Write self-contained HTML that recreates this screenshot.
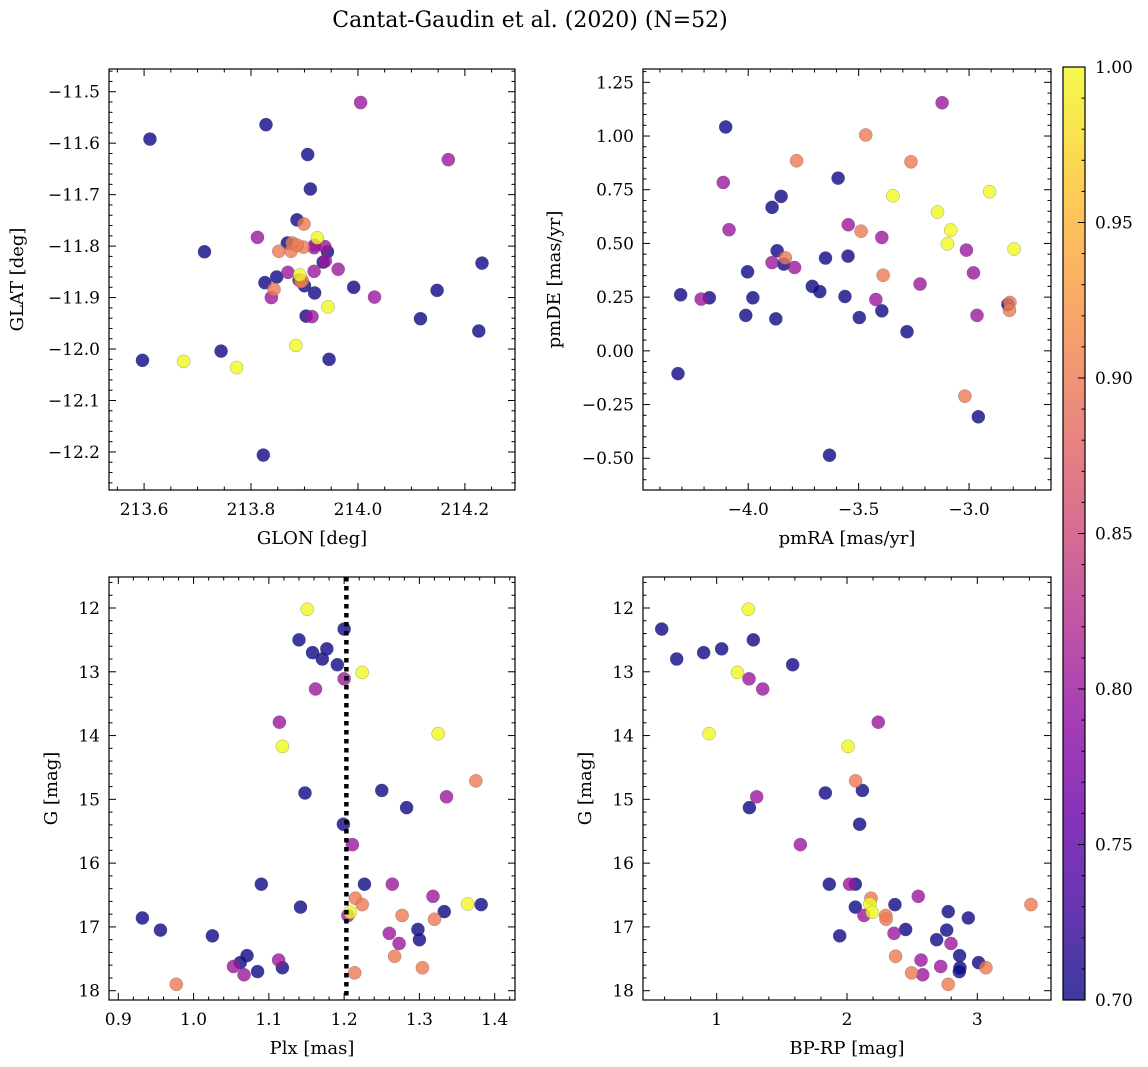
<!DOCTYPE html>
<html><head><meta charset="utf-8"><style>
html,body{margin:0;padding:0;background:#fff;}
svg{display:block;font-family:"DejaVu Serif","Liberation Serif",serif;}
</style></head><body>
<svg id="fig" width="1148" height="1067" viewBox="0 0 1148 1067" xmlns="http://www.w3.org/2000/svg">
<defs>
<linearGradient id="plasma" x1="0" y1="1" x2="0" y2="0">
<stop offset="0" stop-color="#0d0887"/><stop offset="0.1" stop-color="#41049d"/><stop offset="0.2" stop-color="#6a00a8"/><stop offset="0.3" stop-color="#8f0da4"/><stop offset="0.4" stop-color="#b12a90"/><stop offset="0.5" stop-color="#cc4778"/><stop offset="0.6" stop-color="#e16462"/><stop offset="0.7" stop-color="#f2844b"/><stop offset="0.8" stop-color="#fca636"/><stop offset="0.9" stop-color="#fcce25"/><stop offset="1" stop-color="#f0f921"/>
</linearGradient>
</defs>
<text x="530" y="27" font-size="22" text-anchor="middle">Cantat-Gaudin et al. (2020) (N=52)</text>
</svg>
<script>
const prob = [1,1,1,1,1,1, 0.9,0.9,0.9,0.9,0.9,0.9,0.9,0.9,0.9,
 0.8,0.8,0.8,0.8,0.8,0.8,0.8,0.8,0.8,0.8,0.8,0.8,0.8,
 0.7,0.7,0.7,0.7,0.7,0.7,0.7,0.7,0.7,0.7,0.7,0.7,0.7,0.7,0.7,0.7,0.7,0.7,0.7,0.7,0.7,0.7,0.7,0.7];
const plx = [1.151,1.224,1.118,1.325,1.364,1.208,
 1.375,1.215,1.224,1.277,1.320,1.267,1.304,1.214,0.977,
 1.200,1.162,1.114,1.336,1.211,1.264,1.318,1.205,1.260,1.273,1.053,1.113,1.067,
 1.200,1.140,1.158,1.177,1.171,1.191,1.148,1.250,1.283,1.199,1.090,1.227,1.382,1.142,1.333,0.932,0.956,1.025,1.298,1.300,1.071,1.062,1.118,1.085];
const gmag = [12.02,13.01,14.17,13.97,16.64,16.77,
 14.71,16.55,16.65,16.82,16.88,17.46,17.64,17.72,17.90,
 13.11,13.27,13.79,14.96,15.71,16.33,16.52,16.82,17.10,17.26,17.62,17.52,17.75,
 12.33,12.50,12.70,12.64,12.80,12.89,14.90,14.86,15.13,15.39,16.33,16.33,16.65,16.69,16.76,16.86,17.05,17.14,17.04,17.20,17.45,17.56,17.64,17.70];
const bprp = [1.243,1.159,2.008,0.941,2.176,2.194,
 2.066,2.184,3.412,2.297,2.30,2.373,3.066,2.496,2.777,
 1.248,1.353,2.240,1.307,1.642,2.020,2.547,2.130,2.361,2.798,2.719,2.568,2.581,
 0.578,1.281,0.900,1.038,0.693,1.583,1.834,2.118,1.251,2.097,1.864,2.064,2.368,2.064,2.777,2.931,2.765,1.944,2.450,2.688,2.864,3.010,2.867,2.862];
const glon = [213.924,213.891,213.944,213.884,213.674,213.773,
 213.899,213.877,213.852,213.875,213.898,213.896,213.843,213.886,213.893,
 214.005,214.169,213.812,213.918,213.938,213.939,213.963,213.918,213.869,213.838,214.031,213.914,213.919,
 213.611,213.828,213.906,213.911,213.886,213.713,213.868,213.943,213.935,214.232,213.848,213.826,213.900,213.919,213.992,214.148,214.117,213.903,214.226,213.744,213.597,213.946,213.823,213.890];
const glat = [-11.784,-11.856,-11.918,-11.993,-12.024,-12.036,
 -11.757,-11.794,-11.810,-11.810,-11.802,-11.867,-11.884,-11.798,-11.869,
 -11.521,-11.632,-11.783,-11.803,-11.801,-11.829,-11.845,-11.849,-11.851,-11.900,-11.899,-11.937,-11.798,
 -11.592,-11.564,-11.622,-11.689,-11.749,-11.811,-11.794,-11.811,-11.831,-11.833,-11.860,-11.871,-11.877,-11.891,-11.880,-11.886,-11.941,-11.936,-11.965,-12.004,-12.022,-12.020,-12.206,-11.866];
const pmra = [-2.907,-3.345,-3.143,-3.083,-3.098,-2.796,
 -3.468,-3.781,-3.263,-3.489,-3.832,-3.389,-2.815,-2.817,-3.019,
 -3.122,-4.113,-3.547,-4.087,-3.395,-3.012,-3.892,-3.790,-2.980,-3.222,-4.213,-3.422,-2.964,
 -4.102,-3.593,-3.851,-3.892,-3.869,-3.650,-3.548,-3.839,-4.003,-3.710,-3.676,-4.306,-4.176,-3.979,-3.562,-2.824,-3.395,-4.011,-3.875,-3.497,-3.281,-4.318,-2.958,-3.632];
const pmde = [0.741,0.722,0.646,0.562,0.498,0.474,
 1.005,0.885,0.880,0.557,0.433,0.352,0.225,0.189,-0.211,
 1.155,0.784,0.587,0.564,0.528,0.469,0.411,0.388,0.363,0.311,0.241,0.239,0.165,
 1.042,0.804,0.719,0.668,0.466,0.432,0.441,0.404,0.368,0.300,0.276,0.261,0.247,0.247,0.253,0.216,0.186,0.165,0.149,0.155,0.089,-0.106,-0.307,-0.486];
const plxCut = 1.203;
const cbTicks = [0.70,0.75,0.80,0.85,0.90,0.95,1.00];

const NS='http://www.w3.org/2000/svg';
const svg=document.getElementById('fig');
function mk(tag,attrs,parent){const e=document.createElementNS(NS,tag);for(const k in attrs)e.setAttribute(k,attrs[k]);(parent||svg).appendChild(e);return e;}
const stops=[[0,[13,8,135]],[0.1,[65,4,157]],[0.2,[106,0,168]],[0.3,[143,13,164]],[0.4,[177,42,144]],[0.5,[204,71,120]],[0.6,[225,100,98]],[0.7,[242,132,75]],[0.8,[252,166,54]],[0.9,[252,206,37]],[1,[240,249,33]]];
function plasma(t){t=Math.max(0,Math.min(1,t));for(let i=1;i<stops.length;i++){if(t<=stops[i][0]){const a=stops[i-1],b=stops[i];const f=(t-a[0])/(b[0]-a[0]);const c=a[1].map((v,j)=>Math.round(v+(b[1][j]-v)*f));return 'rgb('+c.join(',')+')';}}return 'rgb(240,249,33)';}
function fmt(v,d){const s=Math.abs(v).toFixed(d);return (v<0?'\u2212':'')+s;}
const TF=17, LF=18;

function panel(o){
  const g=mk('g',{});
  
  
  const X=v=>o.x0+(v-o.xlo)/(o.xhi-o.xlo)*(o.x1-o.x0);
  const Y=v=>o.y0+(v-o.ylo)/(o.yhi-o.ylo)*(o.y1-o.y0);
  const tk=mk('g',{stroke:'#000','stroke-width':1},g);
  
  
  const eps=1e-9;
  const xa=Math.min(o.xlo,o.xhi), xb=Math.max(o.xlo,o.xhi);
  for(let v=Math.ceil(xa/o.xmin-eps)*o.xmin; v<=xb+eps; v+=o.xmin){
    const isMaj=Math.abs(v/o.xmaj-Math.round(v/o.xmaj))<1e-6;const L=isMaj?7:3.5;const px=X(v);
    mk('line',{x1:px,y1:o.y1,x2:px,y2:o.y1-L},tk);mk('line',{x1:px,y1:o.y0,x2:px,y2:o.y0+L},tk);
  }
  const ya=Math.min(o.ylo,o.yhi), yb=Math.max(o.ylo,o.yhi);
  for(let v=Math.ceil(ya/o.ymin-eps)*o.ymin; v<=yb+eps; v+=o.ymin){
    const isMaj=Math.abs(v/o.ymaj-Math.round(v/o.ymaj))<1e-6;const L=isMaj?7:3.5;const py=Y(v);
    mk('line',{x1:o.x0,y1:py,x2:o.x0+L,y2:py},tk);mk('line',{x1:o.x1,y1:py,x2:o.x1-L,y2:py},tk);
  }
  o.xt.forEach(v=>{const t=mk('text',{x:X(v),y:o.y1+25,'font-size':TF,'text-anchor':'middle'},g);t.textContent=fmt(v,o.xd);
    });
  o.yt.forEach(v=>{const t=mk('text',{x:o.x0-9,y:Y(v)+6,'font-size':TF,'text-anchor':'end'},g);t.textContent=fmt(v,o.yd);
    });
  const xl=mk('text',{x:(o.x0+o.x1)/2,y:o.y1+54,'font-size':LF,'text-anchor':'middle'},g);xl.textContent=o.xlabel;
  
  const yl=mk('text',{x:0,y:0,'font-size':LF,'text-anchor':'middle',transform:'translate('+o.ylx+','+((o.y0+o.y1)/2)+') rotate(-90)'},g);yl.textContent=o.ylabel;
  
  const idx=prob.map((p,i)=>i).sort((a,b)=>prob[a]-prob[b]);
  const clip='clip-'+o.name;
  const cp=mk('clipPath',{id:clip},g);mk('rect',{x:o.x0,y:o.y0,width:o.x1-o.x0,height:o.y1-o.y0},cp);
  const pts=mk('g',{'clip-path':'url(#'+clip+')'},g);
  idx.forEach(i=>{
    const t=(prob[i]-0.7)/0.3;
    const c=mk('circle',{cx:X(o.xs[i]),cy:Y(o.ys[i]),r:6.6,fill:plasma(t),'fill-opacity':0.8,stroke:'#555','stroke-opacity':0.5,'stroke-width':0.5},pts);
    
    
  });
  if(o.vline!==undefined){
    const l=mk('line',{x1:X(o.vline),x2:X(o.vline),y1:o.y0,y2:o.y1,stroke:'#000','stroke-width':4.5,'stroke-dasharray':'4.5 4.5'},g);
    
  }
  const fr=mk('rect',{x:o.x0,y:o.y0,width:o.x1-o.x0,height:o.y1-o.y0,fill:'none',stroke:'#000','stroke-width':1.2},g);
  
}

panel({name:'glon-glat-panel',x0:109,x1:515,y0:69,y1:490,
  xlo:213.6-35/533.5,xhi:214.2+50/533.5,ylo:-11.5+22.7/514,yhi:-12.2-38/514,
  xmaj:0.2,xmin:0.05,ymaj:0.1,ymin:0.02,xt:[213.6,213.8,214.0,214.2],yt:[-11.5,-11.6,-11.7,-11.8,-11.9,-12.0,-12.1,-12.2],xd:1,yd:1,
  xs:glon,ys:glat,xlabel:'GLON [deg]',ylabel:'GLAT [deg]',ylx:23});
panel({name:'pm-panel',x0:643,x1:1051,y0:69,y1:490,
  xlo:-4.0-(748.3-643)/221,xhi:-3.0+(1051-969)/221,ylo:1.25+13.3/214.4,yhi:-0.5-31.7/214.4,
  xmaj:0.5,xmin:0.1,ymaj:0.25,ymin:0.05,xt:[-4.0,-3.5,-3.0],yt:[1.25,1.0,0.75,0.5,0.25,0,-0.25,-0.5],xd:1,yd:2,
  xs:pmra,ys:pmde,xlabel:'pmRA [mas/yr]',ylabel:'pmDE [mas/yr]',ylx:560});
panel({name:'plx-g-panel',x0:109,x1:515,y0:577,y1:1000,
  xlo:0.9-9.3/752.7,xhi:1.4+20.3/752.7,ylo:12-31/63.8,yhi:18+9.3/63.8,
  xmaj:0.1,xmin:0.02,ymaj:1,ymin:0.2,xt:[0.9,1.0,1.1,1.2,1.3,1.4],yt:[12,13,14,15,16,17,18],xd:1,yd:0,
  xs:plx,ys:gmag,xlabel:'Plx [mas]',ylabel:'G [mag]',ylx:57,vline:plxCut});
panel({name:'cmd-panel',x0:643,x1:1051,y0:577,y1:1000,
  xlo:1-(716.7-643)/130.3,xhi:3+(1051-977.3)/130.3,ylo:12-31/63.8,yhi:18+9.3/63.8,
  xmaj:1,xmin:0.2,ymaj:1,ymin:0.2,xt:[1,2,3],yt:[12,13,14,15,16,17,18],xd:0,yd:0,
  xs:bprp,ys:gmag,xlabel:'BP-RP [mag]',ylabel:'G [mag]',ylx:591});

const cb=mk('g',{});


const cx0=1063,cx1=1085,cy0=67,cy1=1000;
const CY=v=>cy1-(v-0.7)/0.3*(cy1-cy0);
mk('rect',{x:cx0,y:cy0,width:cx1-cx0,height:cy1-cy0,fill:'url(#plasma)','fill-opacity':0.8},cb);
for(let k=0;k<=30;k++){const v=0.7+k*0.01;const maj=k%5===0;const py=CY(v);
  mk('line',{x1:cx1,x2:cx1-(maj?7:3.5),y1:py,y2:py,stroke:'#000','stroke-width':1},cb);}
cbTicks.forEach(v=>{const t=mk('text',{x:cx1+10,y:CY(v)+6,'font-size':TF},cb);t.textContent=v.toFixed(2);
  });
mk('rect',{x:cx0,y:cy0,width:cx1-cx0,height:cy1-cy0,fill:'none',stroke:'#000','stroke-width':1.2},cb);
</script>
</body></html>
